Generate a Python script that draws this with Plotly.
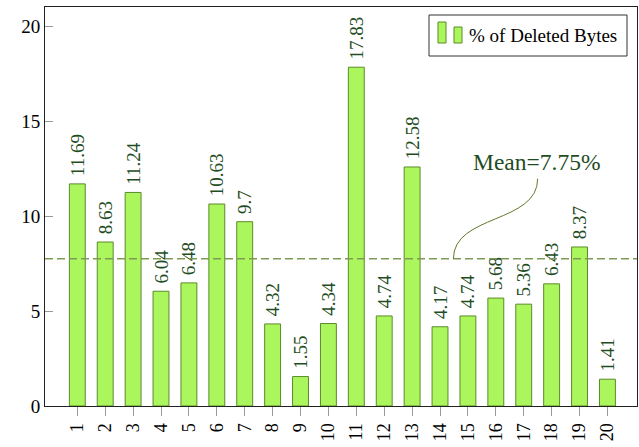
import plotly.graph_objects as go

categories = list(range(1, 21))
values = [11.69, 8.63, 11.24, 6.04, 6.48, 10.63, 9.7, 4.32, 1.55, 4.34,
          17.83, 4.74, 12.58, 4.17, 4.74, 5.68, 5.36, 6.43, 8.37, 1.41]
value_labels = ["11.69", "8.63", "11.24", "6.04", "6.48", "10.63", "9.7", "4.32", "1.55", "4.34",
                "17.83", "4.74", "12.58", "4.17", "4.74", "5.68", "5.36", "6.43", "8.37", "1.41"]
mean_value = 7.75
y_ticks = [0, 5, 10, 15, 20]
series_name = "% of Deleted Bytes"

FONT = "Liberation Serif, Times New Roman, DejaVu Serif, serif"
FILL = "#abf65c"
EDGE = "#5b8a2b"
TXT = "#1f4d1f"
MEANC = "#7f9a55"

W, H = 639, 447
L, R, T, B = 45, 637, 7, 406

def px(xp):
    return (xp - L) / (R - L)

def py(yp):
    return (B - yp) / (B - T)

fig = go.Figure()
fig.add_trace(go.Bar(
    x=categories, y=values, name=series_name,
    text=["\u00a0" + s for s in value_labels], textposition="outside", textangle=-90,
    textfont=dict(family=FONT, size=19, color=TXT),
    constraintext="none", cliponaxis=False,
    marker=dict(color=FILL, line=dict(color=EDGE, width=1)),
    width=0.57, showlegend=False,
))

# mean line
fig.add_shape(type="line", xref="paper", yref="y", x0=0, x1=1, y0=mean_value, y1=mean_value,
              line=dict(color=MEANC, width=1.3, dash="8px,4px"), layer="above")
# pin curve
x0, x1 = 14.48, 17.5
y1 = 11.96
fig.add_shape(type="path", xref="x", yref="y",
              path=f"M {x0},{mean_value} C {x0},{10.1} {x1},{9.6} {x1},{y1}",
              line=dict(color="#5f7a2a", width=1))
fig.add_annotation(x=17.47, y=12.83, xref="x", yref="y", text="Mean=7.75%",
                   showarrow=False, font=dict(family=FONT, size=23.5, color=TXT))

# legend drawn as box
fig.add_shape(type="rect", xref="paper", yref="paper", x0=px(429), x1=px(627), y0=py(56), y1=py(15),
              line=dict(color="#333333", width=1), fillcolor="white", layer="above")
fig.add_shape(type="rect", xref="paper", yref="paper", x0=px(438), x1=px(446), y0=py(43), y1=py(22),
              line=dict(color=EDGE, width=1), fillcolor=FILL, layer="above")
fig.add_shape(type="rect", xref="paper", yref="paper", x0=px(454), x1=px(462), y0=py(43), y1=py(27),
              line=dict(color=EDGE, width=1), fillcolor=FILL, layer="above")
fig.add_annotation(x=px(467), y=py(35.5), xref="paper", yref="paper", text=series_name,
                   showarrow=False, xanchor="left", yanchor="middle",
                   font=dict(family=FONT, size=19, color="black"))

fig.update_layout(
    width=W, height=H,
    margin=dict(l=L, r=W - R, t=T, b=H - B, pad=0),
    plot_bgcolor="white", paper_bgcolor="white",
    font=dict(family=FONT),
    bargap=0.43,
    xaxis=dict(range=[-0.158, 21.06], tickmode="array", tickvals=categories,
               ticktext=[str(c) for c in categories], tickangle=-90,
               ticks="outside", ticklen=9, tickcolor="#999999",
               tickfont=dict(family=FONT, size=18, color="black"),
               showgrid=False, zeroline=False, showline=True, linecolor="#222222",
               linewidth=1, mirror=True),
    yaxis=dict(range=[0, 21], tickmode="array", tickvals=y_ticks,
               ticks="inside", ticklen=8, tickcolor="#999999",
               tickfont=dict(family=FONT, size=19, color="black"),
               showgrid=False, zeroline=False, showline=True, linecolor="#222222",
               linewidth=1, mirror=True),
)

fig.write_html("out.html", config={"displayModeBar": False},
               post_script="document.body.style.margin='0';")
